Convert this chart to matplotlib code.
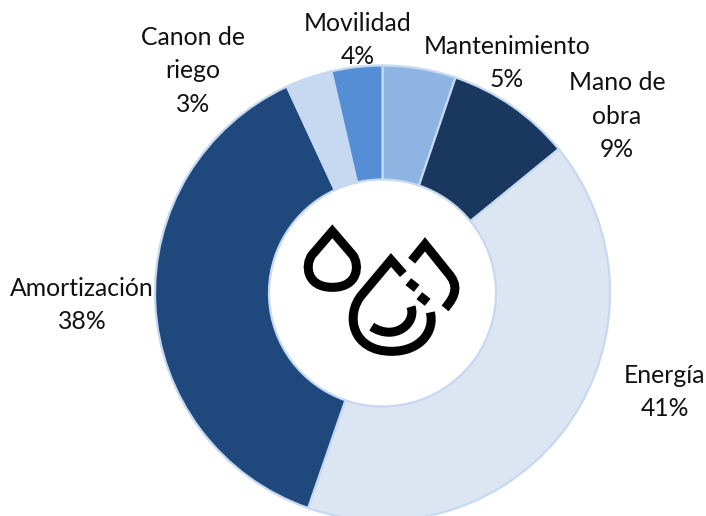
import matplotlib
matplotlib.use("Agg")
import matplotlib.pyplot as plt
from matplotlib.path import Path
from matplotlib.patches import PathPatch

categorias = ["Mantenimiento", "Mano de\nobra", "Energía", "Amortización", "Canon de\nriego", "Movilidad"]
valores = [5.2, 8.9, 41.2, 37.8, 3.3, 3.6]

colores = ["#8EB4E3", "#1A385F", "#DCE6F2", "#1F497D", "#C6D9F1", "#558ED5"]
# label centres in pixels, from the top left corner
pos_labels = [(507, 63), (617, 116), (665, 392), (82, 305), (193, 71), (358, 40)]

W, H = 706, 516
fig = plt.figure(figsize=(W / 100, H / 100), dpi=100)
ax = fig.add_axes([0, 0, 1, 1])

#Donut
ax.pie(valores, colors=colores, startangle=90, counterclock=False,
       center=(382.5, H - 293), radius=227.5, frame=True,
       wedgeprops=dict(width=114, edgecolor="#C6D9F1", linewidth=1.6))
ax.set_xlim(0, W)
ax.set_ylim(0, H)
ax.set_aspect("equal")
ax.axis("off")

#Labels
for cat, val, (px, py) in zip(categorias, valores, pos_labels):
    ax.text(px, H - py, f"{cat}\n{round(val)}%", ha="center", va="center",
            family="Lato", fontsize=17.8, color="#111111", linespacing=1.53)


def pt(x, y):
    return (280 + x / 3, H - (200 + y / 3))


def trazo(puntos, codigos):
    path = Path([pt(*p) for p in puntos], codigos)
    ax.add_patch(PathPatch(path, fill=False, edgecolor="black", linewidth=6.5,
                           capstyle="butt", joinstyle="miter"))


M, L, C, Z = Path.MOVETO, Path.LINETO, Path.CURVE4, Path.CLOSEPOLY

#Small drop
trazo([(157, 94), (218, 165), (240, 195), (235, 262), (157, 262), (79, 262), (74, 195), (96, 165), (157, 94), (157, 94)],
      [M, L, C, C, C, C, C, C, L, Z])

#Big drop
trazo([(370, 222), (333, 180), (245, 285), (195, 345), (215, 454), (335, 454), (420, 454), (465, 395), (451, 337)],
      [M, L, L, C, C, C, C, C, C])

#Inner arc
trazo([(393, 320), (410, 370), (345, 425), (275, 380)], [M, C, C, C])

#Right drop
trazo([(395, 182), (435, 133), (505, 220), (535, 255), (530, 285), (495, 325)],
      [M, L, L, C, C, C])

#Dashes
trazo([(385, 245), (410, 265)], [M, L])
trazo([(418, 287), (443, 307)], [M, L])

fig.savefig("out.png", dpi=100)
